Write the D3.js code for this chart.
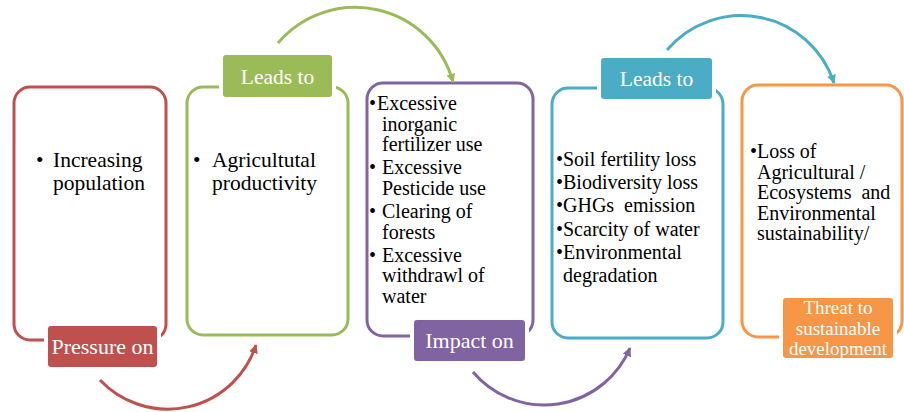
<!DOCTYPE html>
<html>
<head>
<meta charset="utf-8">
<script src="https://cdn.jsdelivr.net/npm/d3@7"></script>
<style>
  html, body { margin: 0; padding: 0; background: #fff; }
  svg { display: block; }
</style>
</head>
<body>
<svg id="chart" width="904" height="412"></svg>
<script>
// ---- content (data) ----
const stageBullets = [
  [["Increasing", "population"]],
  [["Agricultutal", "productivity"]],
  [["Excessive", "inorganic", "fertilizer use"], [" Excessive", "Pesticide use"], [" Clearing of", "forests"], [" Excessive", "withdrawl of", "water"]],
  [["Soil fertility loss"], ["Biodiversity loss"], ["GHGs  emission"], ["Scarcity of water"], ["Environmental", "degradation"]],
  [["Loss of", "Agricultural /", "Ecosystems  and", "Environmental", "sustainability/"]]
];
const connectorLabels = [
  ["Pressure on"],
  ["Leads to"],
  ["Impact on"],
  ["Leads to"],
  ["Threat to", "sustainable", "development"]
];
const stageColors = ["#C0504D", "#9BBB59", "#8064A2", "#4BACC6", "#F79646"];

// ---- layout (kept separate from content) ----
const FONT = "Liberation Serif";
const boxLayout = [
  { x: 14,  y: 87, w: 152, h: 253 },
  { x: 187, y: 87, w: 161, h: 248 },
  { x: 367, y: 83, w: 166, h: 253 },
  { x: 552, y: 88, w: 171, h: 250 },
  { x: 742, y: 85, w: 160, h: 252 }
];
const labelLayout = [
  { x: 48,  y: 326, w: 109, h: 41, fs: 22 },
  { x: 223, y: 55,  w: 109, h: 42, fs: 21.5 },
  { x: 414, y: 320, w: 111, h: 41, fs: 22 },
  { x: 601, y: 58,  w: 111, h: 41, fs: 21.5 },
  { x: 783, y: 298, w: 110, h: 60, fs: 19 }
];
const textLayout = [
  { bx: 36,  tx: 53,  tx2: 53,  y0: 167, fs: 21.5, lh: 22.5, pg: 0 },
  { bx: 193, tx: 212, tx2: 212, y0: 167, fs: 21.5, lh: 23,   pg: 0 },
  { bx: 369, tx: 377, tx2: 382, y0: 110, fs: 20,   lh: 20.6, pg: 2.5 },
  { bx: 556, tx: 563, tx2: 563, y0: 166, fs: 20,   lh: 23.2, pg: 0 },
  { bx: 750, tx: 757, tx2: 757, y0: 158, fs: 20,   lh: 20.6, pg: 0 }
];
// arcs: start, a point on the arc, end (arrow tip)
const arcLayout = [
  { s: [100, 380], m: [173, 409], e: [256, 345] },
  { s: [278, 43],  m: [367, 8],   e: [453, 82] },
  { s: [473, 372], m: [547, 405], e: [630, 348] },
  { s: [667, 50],  m: [750, 16],  e: [834, 83] }
];

const svg = d3.select("#chart").attr("font-family", FONT);
const defs = svg.append("defs");

stageColors.forEach((c, i) => {
  defs.append("marker")
    .attr("id", "arrow" + i)
    .attr("viewBox", "0 0 10 10")
    .attr("refX", 9).attr("refY", 5)
    .attr("markerWidth", 9).attr("markerHeight", 9)
    .attr("markerUnits", "userSpaceOnUse")
    .attr("orient", "auto")
    .append("path")
    .attr("d", "M0,0 L10,5 L0,10 z")
    .attr("fill", c);
});

// circle through 3 points
function circleFrom(p1, p2, p3) {
  const [ax, ay] = p1, [bx, by] = p2, [cx, cy] = p3;
  const d = 2 * (ax * (by - cy) + bx * (cy - ay) + cx * (ay - by));
  const ux = ((ax*ax + ay*ay) * (by - cy) + (bx*bx + by*by) * (cy - ay) + (cx*cx + cy*cy) * (ay - by)) / d;
  const uy = ((ax*ax + ay*ay) * (cx - bx) + (bx*bx + by*by) * (ax - cx) + (cx*cx + cy*cy) * (bx - ax)) / d;
  return { x: ux, y: uy, r: Math.hypot(ax - ux, ay - uy) };
}
function norm(a) { while (a < 0) a += 2 * Math.PI; while (a >= 2 * Math.PI) a -= 2 * Math.PI; return a; }
function arcPath(a) {
  const c = circleFrom(a.s, a.m, a.e);
  const a0 = Math.atan2(a.s[1] - c.y, a.s[0] - c.x);
  const a1 = Math.atan2(a.e[1] - c.y, a.e[0] - c.x);
  const am = Math.atan2(a.m[1] - c.y, a.m[0] - c.x);
  const cwContains = norm(am - a0) < norm(a1 - a0);
  const p = d3.path();
  p.moveTo(a.s[0], a.s[1]);
  p.arc(c.x, c.y, c.r, a0, a1, !cwContains);
  return p.toString();
}

// boxes
const boxes = svg.append("g");
boxLayout.forEach((b, i) => {
  boxes.append("rect")
    .attr("x", b.x).attr("y", b.y).attr("width", b.w).attr("height", b.h)
    .attr("rx", 16).attr("ry", 16)
    .attr("fill", "#fff")
    .attr("stroke", stageColors[i]).attr("stroke-width", 3);
});

// arcs
const arcs = svg.append("g");
arcLayout.forEach((a, i) => {
  arcs.append("path")
    .attr("d", arcPath(a))
    .attr("fill", "none")
    .attr("stroke", stageColors[i])
    .attr("stroke-width", 3)
    .attr("marker-end", "url(#arrow" + i + ")");
});

// box texts
stageBullets.forEach((paras, i) => {
  const t = textLayout[i];
  const g = svg.append("g");
  let y = t.y0;
  paras.forEach((lines, pi) => {
    if (pi > 0) y += t.pg;
    g.append("text").attr("x", t.bx).attr("y", y).attr("font-family", FONT)
      .attr("font-size", t.fs).attr("fill", "#000").text("•");
    lines.forEach((ln, li) => {
      g.append("text")
        .attr("x", li === 0 ? t.tx : t.tx2)
        .attr("y", y)
        .attr("font-family", FONT)
        .attr("font-size", t.fs)
        .attr("fill", "#000")
        .attr("xml:space", "preserve")
        .style("white-space", "pre")
        .text(ln);
      y += t.lh;
    });
  });
});

// connector labels
connectorLabels.forEach((lines, i) => {
  const l = labelLayout[i];
  const g = svg.append("g");
  g.append("rect")
    .attr("x", l.x - 4).attr("y", l.y - 4).attr("width", l.w + 8).attr("height", l.h + 8)
    .attr("rx", 5).attr("fill", "#fff");
  g.append("rect")
    .attr("x", l.x).attr("y", l.y).attr("width", l.w).attr("height", l.h)
    .attr("rx", 3).attr("fill", stageColors[i]);
  const lh = lines.length > 1 ? 20.5 : 0;
  const cy = l.y + l.h / 2;
  lines.forEach((ln, li) => {
    g.append("text")
      .attr("x", l.x + l.w / 2)
      .attr("y", cy + (li - (lines.length - 1) / 2) * lh)
      .attr("dy", "0.35em")
      .attr("text-anchor", "middle")
      .attr("font-family", FONT)
      .attr("font-size", l.fs)
      .attr("fill", "#fff")
      .text(ln);
  });
});
</script>
</body>
</html>
